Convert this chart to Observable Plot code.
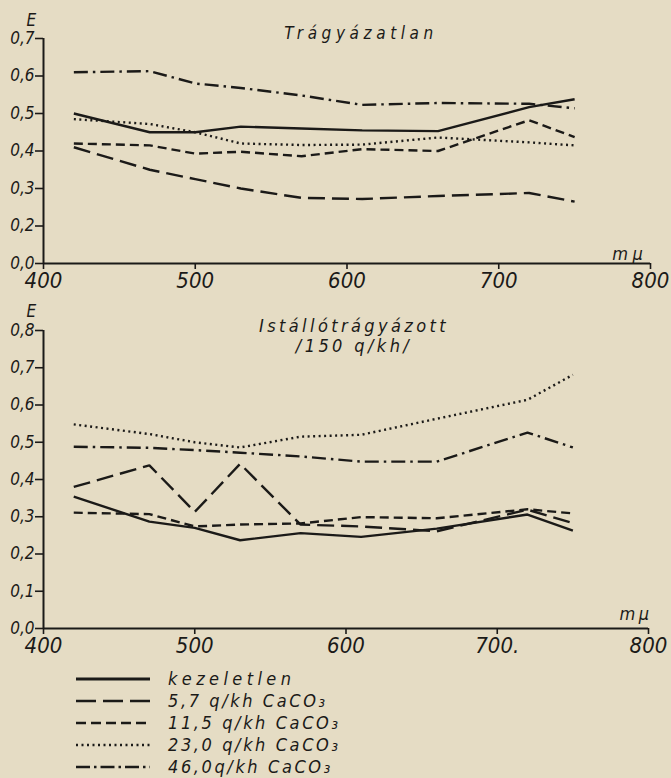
<!DOCTYPE html>
<html><head><meta charset="utf-8">
<script src="https://cdn.jsdelivr.net/npm/d3@7"></script>
<script src="https://cdn.jsdelivr.net/npm/@observablehq/plot@0.6"></script>
<style>
html,body{margin:0;padding:0;background:#e5dcc4;}
body{position:relative;width:671px;height:778px;overflow:hidden;font-family:"DejaVu Sans Condensed","Liberation Sans Narrow","DejaVu Sans",sans-serif;font-style:italic;color:#1b1a18;}
#top{position:absolute;left:0;top:0;}
#bottom{position:absolute;left:0;top:296px;}
#legend{position:absolute;left:0;top:668px;}
.row{display:flex;align-items:center;height:22px;}
.row span{margin-left:18px;font-size:18px;line-height:22px;}
svg{overflow:visible;}
</style></head><body>
<div id="top"></div><div id="bottom"></div><div id="legend"></div>
<script>
// wavelengths (mμ)
const wavelengths = [420, 470, 500, 530, 570, 610, 660, 720, 750];
const seriesNames = ["kezeletlen", "5,7 q/kh CaCO₃", "11,5 q/kh CaCO₃", "23,0 q/kh CaCO₃", "46,0q/kh CaCO₃"];

// Trágyázatlan panel
const topKezeletlen = [0.50, 0.45, 0.45, 0.465, 0.46, 0.455, 0.453, 0.517, 0.538];
const top57 = [0.41, 0.35, 0.325, 0.30, 0.275, 0.272, 0.28, 0.288, 0.265];
const top115 = [0.42, 0.415, 0.393, 0.398, 0.386, 0.405, 0.40, 0.482, 0.437];
const top230 = [0.485, 0.472, 0.45, 0.42, 0.416, 0.417, 0.436, 0.423, 0.415];
const top460 = [0.61, 0.613, 0.58, 0.568, 0.548, 0.523, 0.528, 0.526, 0.514];

// Istállótrágyázott panel
const botKezeletlen = [0.354, 0.287, 0.27, 0.237, 0.256, 0.246, 0.268, 0.306, 0.263];
const bot57 = [0.38, 0.438, 0.313, 0.442, 0.279, 0.274, 0.261, 0.319, 0.283];
const bot115 = [0.311, 0.307, 0.274, 0.279, 0.282, 0.299, 0.296, 0.32, 0.309];
const bot230 = [0.548, 0.522, 0.50, 0.486, 0.515, 0.52, 0.563, 0.614, 0.681];
const bot460 = [0.488, 0.485, 0.479, 0.472, 0.462, 0.448, 0.448, 0.526, 0.486];

// axes
const xDomain = [400, 800];
const xTicks = [400, 500, 600, 700, 800];
const xTickLabelsTop = ["400", "500", "600", "700", "800"];
const xTickLabelsBottom = ["400", "500", "600", "700.", "800"];
const yTicksTop = [0.1, 0.2, 0.3, 0.4, 0.5, 0.6, 0.7];
const yTickLabelsTop = ["0,0", "0,2", "0,3", "0,4", "0,5", "0,6", "0,7"];
const yTicksBottom = [0, 0.1, 0.2, 0.3, 0.4, 0.5, 0.6, 0.7, 0.8];
const yTickLabelsBottom = ["0,0", "0,1", "0,2", "0,3", "0,4", "0,5", "0,6", "0,7", "0,8"];
const titleTop = "Trágyázatlan";
const titleBottom = "Istállótrágyázott\n/150 q/kh/";
const yLabel = "E";
const xLabel = "mμ";

// styles
const ink = "#1b1a18";
const fontFamily = '"DejaVu Sans Condensed","Liberation Sans Narrow","DejaVu Sans",sans-serif';
const chartDash = [undefined, "17,7", "9,5", "2,3.5", "14,5,2.5,5"];
const legendDash = [undefined, "20,7", "10,5", "2,3.5", "14,4,2.5,4"];

function panel(o) {
  const yLab = new Map(o.yTicks.map((t, i) => [t, o.yTickLabels[i]]));
  const xLab = new Map(xTicks.map((t, i) => [t, o.xTickLabels[i]]));
  const yDomain = [o.yTicks[0], o.yTicks[o.yTicks.length - 1]];
  const lines = o.values.map((v, k) =>
    Plot.line(wavelengths.map((w, i) => ({w, e: v[i]})), {
      x: "w", y: "e", stroke: ink, strokeWidth: 2.4,
      strokeDasharray: chartDash[k], strokeLinejoin: "miter", strokeLinecap: "butt"
    }));
  const svg = Plot.plot({
    width: 671, height: o.height,
    marginLeft: 43, marginRight: o.marginRight, marginTop: o.marginTop, marginBottom: o.marginBottom,
    x: {domain: xDomain},
    y: {domain: yDomain},
    style: {background: "transparent", fontFamily, fontStyle: "italic", color: ink, overflow: "visible"},
    marks: [
      Plot.ruleX([xDomain[0]], {y1: yDomain[0], y2: yDomain[1], stroke: ink, strokeWidth: 2}),
      Plot.ruleY([yDomain[0]], {x1: xDomain[0], x2: xDomain[1], stroke: ink, strokeWidth: 2}),
      Plot.axisY(o.yTicks, {tickFormat: d => yLab.get(d), tickSize: 8, tickPadding: 1, fontSize: 17, label: null, strokeWidth: 1.6}),
      Plot.axisX(xTicks, {tickFormat: d => xLab.get(d), tickSize: 6, tickPadding: 3, fontSize: 22, label: null, strokeWidth: 1.6}),
      ...lines,
      Plot.text([o.title], {frameAnchor: "top", dx: o.titleDx, dy: o.titleDy, lineAnchor: "top", fontSize: o.titleSize, lineHeight: 1.12, fill: ink}),
      Plot.text([yLabel], {frameAnchor: "top-left", dx: -17, dy: o.eDy, lineAnchor: "bottom", fontSize: 17, fill: ink}),
      Plot.text([xLabel], {frameAnchor: "bottom-right", textAnchor: "end", dx: o.muDx, dy: o.muDy, lineAnchor: "bottom", fontSize: 18, fill: ink})
    ]
  });
  d3.select(svg).selectAll('g[aria-label="text"] text').style("letter-spacing", o.spacing);
  return svg;
}

document.getElementById("top").append(panel({
  values: [topKezeletlen, top57, top115, top230, top460],
  yTicks: yTicksTop, yTickLabels: yTickLabelsTop, xTickLabels: xTickLabelsTop,
  title: titleTop, titleSize: 17, height: 296, marginTop: 38, marginBottom: 33, marginRight: 21,
  titleDx: 14, titleDy: -13, eDy: -13, muDx: -3, muDy: -4, spacing: "4.6px"
}));
document.getElementById("bottom").append(panel({
  values: [botKezeletlen, bot57, bot115, bot230, bot460],
  yTicks: yTicksBottom, yTickLabels: yTickLabelsBottom, xTickLabels: xTickLabelsBottom,
  title: titleBottom, titleSize: 18, height: 364, marginTop: 34, marginBottom: 32, marginRight: 23,
  titleDx: 8, titleDy: -13, eDy: -14, muDx: 4, muDy: -9, spacing: "3.4px"
}));

// legend
const legend = d3.select("#legend");
seriesNames.forEach((name, k) => {
  const row = legend.append("div").attr("class", "row");
  const s = row.append("svg").attr("width", 150).attr("height", 22);
  s.append("line").attr("x1", 76).attr("x2", 150).attr("y1", 11).attr("y2", 11)
    .attr("stroke", ink).attr("stroke-width", k === 0 ? 3 : 2.6)
    .attr("stroke-dasharray", legendDash[k] || null);
  row.append("span").text(name).style("letter-spacing", k === 0 ? "4.4px" : "2.6px");
});
</script>
</body></html>
